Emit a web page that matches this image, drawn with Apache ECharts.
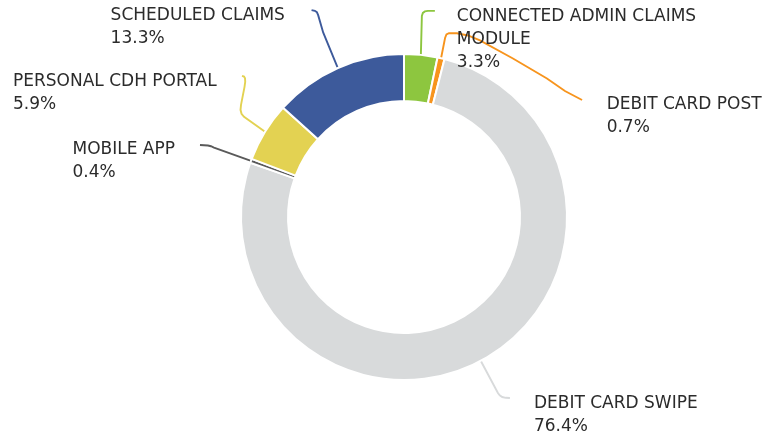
<!DOCTYPE html>
<html><head><meta charset="utf-8">
<script src="https://cdn.jsdelivr.net/npm/echarts@6/dist/echarts.min.js"></script>
<style>html,body{margin:0;padding:0;background:#fff}#c{width:765px;height:438px}</style>
</head><body><div id="c"></div>
<script>
const categories = ['CONNECTED ADMIN CLAIMS MODULE', 'DEBIT CARD POST', 'DEBIT CARD SWIPE', 'MOBILE APP', 'PERSONAL CDH PORTAL', 'SCHEDULED CLAIMS'];
const shares = [3.3, 0.7, 76.4, 0.4, 5.9, 13.3];
const colors = ['#8dc63f', '#f7941d', '#d8dadb', '#5a5a5a', '#e3d252', '#3d5a9b'];

// leader-line routes: offsets from the slice's outer-edge point that ECharts computes
const leaderRoutes = [
  { side: 'right', pts: [[1, -39], [2, -42], [4, -43.5], [7, -44], [14, -44]], text: [36, -40] },
  { side: 'right', pts: [[4, -20.3], [5.4, -23.8], [7.9, -25.1], [15.9, -25], [26.9, -22.8], [38.9, -17.8], [71.9, 0.2], [105.9, 20.2], [123.9, 32.7], [141, 41.7]], text: [165.6, 44.7] },
  { side: 'right', pts: [[17.2, 32.2], [19, 34.5], [21.5, 36.2], [25, 37], [29.2, 37.2]], text: [53.2, 40.9] },
  { side: 'left', pts: [[-37, -13.3], [-40, -14.6], [-43, -15.3], [-51, -15.8]], text: [-76, -12.8] },
  { side: 'left', pts: [[-21, -15], [-23.5, -18], [-24.5, -22], [-24, -27], [-20.5, -45], [-19.8, -50], [-20, -53.5], [-21, -55.3], [-23, -56]], text: [-48.3, -51.9] },
  { side: 'left', pts: [[-14.7, -35.6], [-19.7, -52.9], [-21, -55.9], [-23, -57.2], [-26.3, -57.9]], text: [-53, -54.4] }
];
const LINE_H = 23;

function wrapName(name, maxChars) {
  const words = name.split(' ');
  const lines = [];
  let cur = '';
  words.forEach(w => {
    if (cur && (cur + ' ' + w).length > maxChars) { lines.push(cur); cur = w; }
    else { cur = cur ? cur + ' ' + w : w; }
  });
  if (cur) lines.push(cur);
  return lines.join('\n');
}

const chart = echarts.init(document.getElementById('c'), null, { renderer: 'canvas' });
chart.setOption({
  animation: false,
  backgroundColor: '#fff',
  series: [{
    type: 'pie',
    center: [404, 217],
    radius: [116, 163],
    startAngle: 90,
    clockwise: true,
    avoidLabelOverlap: false,
    emphasis: { disabled: true },
    itemStyle: { borderColor: '#fff', borderWidth: 2 },
    label: {
      show: true,
      position: 'outside',
      formatter: p => wrapName(p.name, 24) + '\n' + shares[p.dataIndex].toFixed(1) + '%',
      fontFamily: 'DejaVu Sans',
      fontSize: 17,
      lineHeight: LINE_H,
      color: '#2b2b2b',
      align: 'left'
    },
    labelLine: { show: true, length: 20, length2: 10, smooth: false, lineStyle: { width: 1.9 } },
    labelLayout: function (params) {
      const r = leaderRoutes[params.dataIndex];
      const lp = params.labelLinePoints;
      if (!r || !lp) return {};
      const p0 = lp[0];
      const pts = [[p0[0], p0[1]]].concat(r.pts.map(o => [p0[0] + o[0], p0[1] + o[1]]));
      const w = params.labelRect.width;
      return {
        x: p0[0] + r.text[0] - (r.side === 'left' ? w : 0),
        y: p0[1] + r.text[1] - LINE_H / 2 + 2,
        align: 'left',
        verticalAlign: 'top',
        labelLinePoints: pts
      };
    },
    data: categories.map((n, i) => ({
      name: n,
      value: shares[i],
      itemStyle: { color: colors[i] },
      labelLine: { lineStyle: { color: colors[i] } }
    }))
  }]
});
</script>
</body></html>
